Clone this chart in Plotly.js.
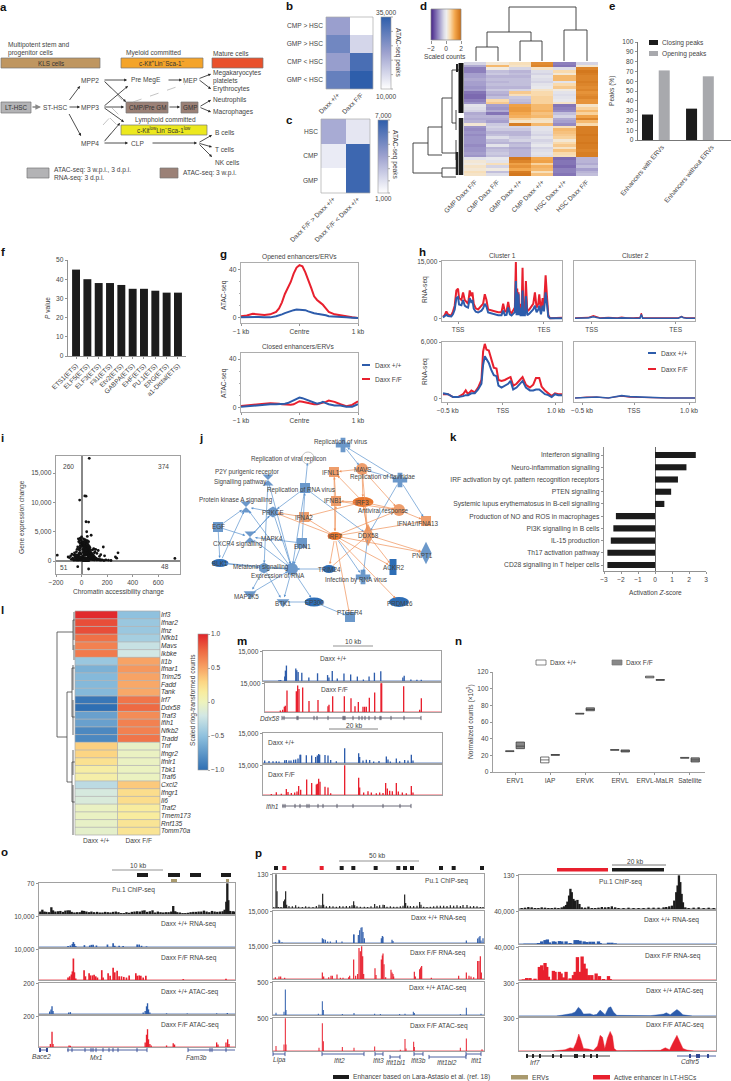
<!DOCTYPE html>
<html><head><meta charset="utf-8">
<script src="https://cdn.plot.ly/plotly-3.0.1.min.js"></script>
<style>html,body{margin:0;padding:0;background:#fff}</style></head><body><div id="c"></div>
<script>
// ---------- DATA ----------
const bRows=['CMP > HSC','GMP > HSC','CMP < HSC','GMP < HSC'];
const bCols=['Daxx +/+','Daxx F/F'];
const bZ=[[23000,10000],[27500,15500],[23250,32000],[28750,35000]];
const bKeyTicks=[10000,15000,20000,25000,30000,35000];
const cRows=['HSC','CMP','GMP'];
const cCols=['Daxx F/F > Daxx +/+','Daxx F/F < Daxx +/+'];
const cZ=[[3700,1800],[1650,6600],[1000,6600]];
const cKeyTicks=[1000,2000,3000,4000,5000,6000,7000];
const dCols=['GMP Daxx F/F','CMP Daxx F/F','GMP Daxx +/+','CMP Daxx +/+','HSC Daxx +/+','HSC Daxx F/F'];
const dZ=[
[-.4,.2,.4,1.5,-1.2,-.4],[-.8,.9,.3,1.6,-1.3,.2],[-1.2,.1,-.4,.3,-.3,1.6],[-1.2,-.6,-.7,-.3,.5,1.8],[-.9,-.5,-.6,-.4,.2,1.7],
[-.9,-.7,-.7,-.2,.9,1.6],[-.8,-.6,-.6,-.3,.9,1.6],[-.9,-.7,-.6,-.4,-.2,1.7],[-.9,-.6,-.6,-.2,.5,1.6],[-1,-.7,-.7,-.1,.7,1.5],
[-.9,-.5,-.4,.3,.1,1.6],[-1.3,-.7,.7,.5,-.2,1.4],[-1.4,-.8,.4,.5,-.3,1.5],[-1.4,-.6,-.5,.6,-.2,1.6],[-1.2,.5,-.6,.6,-.1,1.4],
[-1,.7,-.7,.6,.3,1.4],[-.2,-.9,1.2,.9,-1.3,.3],[-.3,-1,1.3,.9,-1.2,.6],[-.4,-.8,1.3,1,-1.1,.9],[-.8,-1.3,1.1,.8,-.6,.6],
[-.7,-.7,1,.9,-.4,1.2],[-.8,-.8,.6,.4,-.8,1.6],[-.7,-.9,.3,.3,-.9,.9],[.2,-.5,1.7,.9,-1.1,.5],[-1,-.4,-.4,-.2,.4,1.7],
[-1.1,-.5,-.5,-.2,.9,1.7],[-1,-.7,-.7,-.3,.8,1.7],[-1.1,-.6,-.7,-.4,.7,1.8],[-1,-.3,-.5,-.2,.6,1.7],[-1,-.6,-.4,-.4,.2,1.7],
[-1,-.7,-.7,-.3,.5,1.8],[-1.1,-.2,-.6,-.1,.7,1.7],[-1,-.7,-.8,-.4,.3,1.7],[-1,-.6,-.7,-.3,.8,1.6],[-.9,-.5,-.7,-.2,.5,1.7],
[-1,-.6,-.7,-.3,.4,1.7],[-.2,-.1,1.8,1.1,-1.4,-.7],[.2,-.2,1.6,1.2,-1.3,-.7],[.1,.4,1.2,.6,-1.3,-.8],[.3,-.4,1.4,1,-1.4,-.6],
[.2,.1,1.1,.9,-1.2,-.9],[.4,-.6,1.7,.4,-1.2,-.7],[.3,-.3,1.8,.8,-1.3,-.6]];
const dKey=[-2,-1.6,-1.2,-.8,-.4,0,.4,.8,1.2,1.6,2];
const eLabels=['Enhancers with ERVs','Enhancers without ERVs'];
const eClosing=[26,32], eOpening=[71,65];
const fNames=['ETS1(ETS)','ELF5(ETS)','ELF3(ETS)','Fli1(ETS)','Etv2(ETS)','GABPA(ETS)','EHF(ETS)','PU.1(ETS)','ERG(ETS)','a1-Distal(ETS)'];
const fVals=[45,40,38,38,37,35,35,34,33,33];
const gPos=[-1,-.9,-.8,-.7,-.6,-.5,-.4,-.35,-.3,-.25,-.2,-.15,-.1,-.05,0,.05,.1,.15,.2,.25,.3,.35,.4,.45,.5,.6,.7,.8,.9,1];
const gOpenF=[1.5,2,3.5,3,2.5,3,5,8,13,20,25,30,37,42,44,43,38,32,25,18,15,13,11,8,5,3,2,1,.5,0];
const gOpenW=[.5,.8,1,.8,.5,.5,1.5,2,3,4,5,5.5,6.5,7,7,7,6.5,5.5,4.5,4,3.5,3.2,3,2.2,1.5,1,.7,.5,.2,0];
const gCloseW=[1,1.5,2,2.5,3,3,3,3,3,3.5,4,5,6,7,8.5,8,7,6,5,4,3.5,4,5,4,3,2,2,1,1,3];
const gCloseF=[1.5,2,3,3.2,3.5,3.8,4,3.5,3,2.8,2.5,2.7,3,4,5.5,5,4.5,3.5,3,3,3,3.5,4,5,6,5,3,1.5,2.5,5.5];
const hX=[130,135,140,145,150,155,160,165,170,175,178,185,190,195,200,205,210,215,218,222,228,235,245,250,255,260,265,275,285,295,305,310,315,320,325,330,335,345,348,350,352,354,356,358,360,362,365,368,370,372,375,378,382,388,395,400,405,410,415,418,423,428,432,437,441,445,450,486];
const hC1F=[.6,1,2,1.2,1,1,2,3.5,7.5,8,5.5,5,7,5,4.5,4,7.5,6,7,4,2.8,2.5,3.5,4,6.5,5,2.5,2.2,2,1.8,1.8,4,2,2,4.5,2,1.5,3,15,3,8,3,7,2.5,4,2,2,13.5,4,3,2,10,2,2.5,3.5,4,7,3,4,6.5,2,5.5,3,11.5,6,1,.2,.3];
const hC1W=[.4,.7,1.1,.8,.7,.7,1.3,2.5,5.5,5.8,3.8,3.6,5,3.5,3.2,3,5.5,4.2,5,2.7,1.9,1.7,2.2,2.8,4,3.2,1.7,1.4,1.2,1,1,2.2,1,1.1,3,1.2,.9,1.8,10,1,7,1,6.5,1,3,1,1,7.5,1,1,1,6,1,1.4,2,2.5,3.5,1.8,2.5,3.5,1.2,3.5,2,7,4,.6,.2,.2];
const h2X=[525,565,580,600,625,640,652,665,680,700,720,724,728,750,775,790,795,800,804,815,835,845,850,860,885];
const hC2F=[.3,.4,.9,.3,.4,.3,.3,.5,.3,.3,.4,1.5,.3,.3,.3,.3,.4,.3,.3,.3,.3,.7,.4,.3,.3];
const hC2W=[.2,.3,.6,.2,.3,.2,.2,.3,.2,.2,.2,1.2,.2,.2,.2,.2,.3,.2,.2,.2,.2,.6,.3,.2,.2];
const hT1X=[130,145,160,175,190,198,205,215,225,235,245,250,255,260,267,275,282,290,296,305,315,325,332,340,350,360,368,378,390,400,408,418,425,435,445,455,465,475,486];
const hT1F=[.5,.5,.2,.2,.5,.9,.5,.9,.7,1.2,2,5,5.8,5.2,5.1,4,3.3,3.2,2,1.9,2,2.2,2.3,1.4,1.6,2,2.3,1.5,1.2,1.5,2.2,2.2,1.3,.9,.6,.3,.6,.5,.5];
const hT1W=[.6,.5,.2,.2,.3,.4,.4,.6,.6,1,1.6,3.6,4.5,4.2,3.8,3,2.5,2.4,1.4,1.2,1.4,1.6,1.9,1,1.2,1.6,1.9,1.2,.9,.9,1,1,.8,.5,.4,.2,.5,.4,.4];
const hT2X=[525,560,590,625,650,665,690,720,760,800,850,885];
const hT2F=[.1,.2,.2,.1,.25,.3,.2,.15,.15,.1,.1,.1];
const hT2W=[.1,.15,.2,.1,.3,.35,.25,.2,.15,.1,.1,.1];
const iX=[60,25,35,-15,35,55,40,75,0,-10,-25,-15,45,30,170,285,275,730,-190,-30,55,-105,-95,-85,-75,-70,-60,-55,-50,-45,-40,-35,-30,-25,-20,-15,-10,-5,0,5,-80,-65,-52,-42,-33,-28,-22,-16,-12,-7,-2,3,8,-60,-48,-38,-30,-24,-18,-12,-8,-3,2,-50,-36,-26,-18,-10,-4,-30,-20,-12,-5,-20,-14,-8,-22,-12,-6,
5,10,15,20,25,30,35,40,45,50,55,60,65,70,75,80,85,90,95,100,110,120,130,140,150,160,175,190,210,230,8,14,20,26,32,38,44,50,56,62,68,74,80,88,96,104,112,122,132,145,12,18,24,30,36,42,48,54,60,66,72,78,86,94,102,115,10,16,22,28,34,40,46,52,58,64,70,76,84,92,6,12,18,24,30,36,42,48,54,60,66,72,80,8,14,20,26,32,38,44,50,56,62,68,10,16,22,28,34,40,46,52,58,12,20,28,36,44,52,60,15,25,35,45,55,18,30,42,95,110,130,150,180,265,120,140,65,85,105,100];
const iY=[17500,11100,11050,10400,6700,6650,5000,4400,4100,3900,3800,3500,4200,3600,2400,1400,500,450,1000,-950,-1350,700,600,900,1200,500,1000,1400,700,1100,1600,2000,2400,900,1300,1800,2600,3000,3300,2800,300,300,250,300,350,400,300,350,500,300,400,300,500,150,200,150,200,150,200,250,200,150,200,600,700,500,600,700,600,1000,1100,1400,1200,2000,2200,2400,3300,3000,3600,
300,400,500,450,600,500,400,500,450,500,400,350,400,300,300,350,250,300,250,200,300,200,250,200,150,200,100,200,150,100,800,900,1100,1000,1200,1100,1000,900,800,900,700,800,600,500,600,500,400,300,300,250,1500,1400,1600,1500,1700,1400,1300,1200,1100,1000,1100,900,900,800,700,500,2000,1900,2100,1800,2000,1800,1700,1500,1400,1400,1300,1200,1100,1000,2600,2500,2400,2300,2500,2300,2100,1900,1800,1700,1600,1500,1300,3000,2900,2800,2700,2900,2600,2500,2400,2100,2000,1900,100,100,120,90,100,120,100,80,100,3300,3200,3500,3100,3000,2800,2500,3800,3600,3400,3500,3300,150,120,100,2100,2000,1800,1100,900,700,1300,800,2300,1900,1600,1400];
const kLabels=['Interferon signalling','Neuro-inflammation signalling','IRF activation by cyt. pattern recognition receptors','PTEN signalling','Systemic lupus erythematosus in B-cell signalling','Production of NO and ROS in macrophages','PI3K signalling in B cells','IL-15 production','Th17 activation pathway','CD28 signalling in T helper cells'];
const kVals=[2.4,1.85,1.35,.95,.55,-2.3,-2.45,-2.6,-2.8,-2.8];
const lGenes=['Irf3','Ifnar2','Ifnz','Nfkb1','Mavs','Ikbke','Il1b','Ifnar1','Trim25','Fadd','Tank','Irf7','Ddx58','Traf3','Ifih1','Nfkb2','Tradd','Tnf','Ifngr2','Ifnlr1','Tbk1','Traf6','Cxcl2','Ifngr1','Il6','Traf2','Tmem173','Rnf135','Tomm70a'];
const lWT=[.98,.85,.85,.72,.65,.68,-.45,-.6,-.55,-.55,-.55,-.95,-1,-.7,-.7,-.85,-.85,.32,.3,.22,.12,.1,-.3,-.17,-.15,-.03,-.03,-.05,-.07];
const lKO=[-.5,-.45,-.45,-.4,-.25,-.2,.5,.55,.5,.48,.48,.7,.75,.6,.65,.65,.7,-.05,-.03,-.03,-.02,-.02,.35,.25,.25,.15,.15,.2,.2];
const nCats=['ERV1','IAP','ERVK','ERVL','ERVL-MaLR','Satellite'];
const nWQ1=[24.5,11,69.5,26,113,16.5], nWMed=[25,14.5,70,26.5,114,17], nWQ3=[25.5,18,70.5,27,115,17.5];
const nFQ1=[28,20,73.5,24,110,12], nFMed=[31,20.5,75,25,110.5,14.5], nFQ3=[36,21,77,26.5,111,17];
// genome tracks: flat "position, height %" pairs
const m1=[178,3,183,3,195,15,197,35,200,52,228,42,231,36,235,30,246,28,267,12,293,26,323,20,327,12,337,34,352,8,372,25,392,22,412,15,430,5,447,15,463,28,482,33,548,12,552,18,572,5,590,4,603,4];
const m2=[180,5,187,8,192,18,195,22,200,75,228,72,232,92,236,80,247,85,266,38,293,42,323,20,326,25,337,55,372,55,392,48,404,20,414,35,428,18,433,18,438,18,447,50,463,68,482,100,484,100,550,90,598,8,603,48];
const m3=[135,8,148,7,160,6,170,6,178,5,195,9,200,10,208,8,214,8,222,11,228,12,235,15,241,28,243,28,260,26,276,25,288,20,293,25,297,30,300,28,316,27,325,25,333,10,350,6,375,50,417,33,420,20,430,8,440,11,450,10,462,5,478,7,500,22,505,12,512,5,530,15,540,6,555,10,565,8,575,28,580,8];
const m4=[155,3,170,9,185,4,200,20,205,10,215,7,225,8,232,12,237,30,243,18,261,52,276,40,290,35,293,38,297,55,301,45,316,28,325,25,333,6,375,100,417,58,420,25,432,8,445,13,455,8,470,6,480,8,490,7,498,40,503,22,510,14,518,13,530,40,536,12,548,8,560,6,575,30,580,8];
const o1=[122,8,128,14,134,8,140,7,148,6,155,22,160,12,167,8,175,9,182,10,190,7,197,11,204,12,210,12,216,7,224,5,232,6,240,6,247,11,253,10,260,8,268,6,275,8,283,6,292,7,300,5,308,5,316,7,324,6,332,5,340,7,348,8,356,6,364,3,372,3,380,6,388,4,396,7,404,8,412,9,420,8,428,11,434,12,442,7,450,9,458,12,466,5,474,8,482,6,490,5,498,6,506,6,514,8,520,26,526,9,532,6,540,5,548,3,556,3,564,4,572,6,580,7,588,7,596,8,604,8,612,11,620,8,628,6,636,10,644,8,652,7,660,8,668,9,674,14,679,40,682,100,685,45,690,10,698,9,703,8];
const o2=[205,3,212,5,218,10,221,16,224,10,228,3,254,6,270,5,275,7,280,7,290,5,323,8,340,12,345,4,358,4,370,3,412,8,418,8,425,4,440,2];
const o3=[205,8,210,12,215,18,218,28,221,70,224,25,228,5,253,32,257,12,268,22,272,15,278,15,283,17,288,12,293,8,306,32,310,8,325,22,331,14,340,40,345,25,352,30,358,12,365,12,372,10,380,8,388,15,408,22,412,14,418,15,423,14,430,8,438,14,550,3,678,4];
const o4=[150,8,154,15,157,25,160,10,207,5,212,6,430,5,436,10,440,25,443,35,446,15,450,5,500,2,562,2,650,2,682,3];
const o5=[152,10,157,50,160,10,208,5,212,4,436,15,440,40,443,58,446,25,450,10,454,5,500,5,520,12,524,8,650,15,654,8,678,15,683,25,687,10];
const p1=[100,2,107,100,110,50,114,3,122,3,130,20,133,25,136,50,139,10,146,6,156,5,166,8,175,4,186,3,196,5,206,4,218,3,228,6,236,10,242,8,247,42,250,10,258,5,268,6,278,5,288,4,298,6,308,5,318,6,328,6,335,8,340,20,343,8,350,5,360,4,372,4,382,3,392,5,403,12,410,6,418,8,428,10,432,9,440,4,450,5,460,4,470,4,480,5,488,7,493,40,496,15,502,7,510,6,520,6,530,7,538,18,542,10,550,4,560,3,570,4,580,5,590,7,600,7,610,7,620,6,630,8,640,7,650,8,660,6,668,9,680,9,690,5,700,6,710,5,720,3,728,3];
const p2=[105,2,116,10,118,8,125,2,246,15,250,12,255,10,262,5,270,5,288,9,305,5,340,27,341,27,354,25,358,40,362,48,365,50,368,35,372,15,423,15,426,22,428,20,455,10,458,6,678,8,712,14,716,18,719,22,722,8,728,15];
const p3=[105,5,116,8,121,8,133,4,246,20,250,8,265,5,272,10,276,10,290,14,300,4,308,4,325,5,328,10,340,60,346,10,352,15,356,95,360,85,364,100,367,70,370,15,404,33,407,12,423,60,426,72,428,78,431,45,436,5,452,28,455,20,458,15,460,8,522,22,525,8,538,30,541,35,544,40,573,4,655,10,678,20,686,10,692,8,700,5,712,55,716,55,720,70,723,20];
const p4=[107,7,131,10,135,78,137,15,234,4,246,42,249,15,306,3,341,6,403,4,420,3,478,3,494,4,519,10,522,6,660,3,678,22,722,4];
const p5=[107,15,131,20,135,100,137,20,236,10,246,85,249,30,306,12,341,10,403,14,480,4,494,37,497,8,520,28,522,12,660,10,678,38,725,5];
const q1=[95,3,105,4,115,6,125,5,135,3,145,3,155,5,165,4,175,3,185,3,195,4,205,3,215,5,222,8,228,12,232,22,237,40,241,60,245,50,250,30,255,25,262,27,268,15,275,5,285,4,295,7,305,3,315,3,325,4,335,6,345,5,355,6,365,8,375,5,385,3,400,3,415,4,430,3,445,3,460,3,475,4,490,4,505,4,520,5,528,6,537,8,545,10,552,25,558,50,562,70,566,100,570,80,574,45,578,20,585,5,595,3,610,4,625,5,640,3,655,4,670,3];
const q2=[105,1,115,1,125,1,135,1,145,3,155,8,165,12,172,14,178,5,190,8,195,7,208,9,215,8,228,8,240,3,255,12,262,12,270,10,282,8,290,6,300,7,310,7,325,8,330,3,355,4,365,4,375,2];
const q3=[100,2,110,6,120,6,135,4,148,40,155,45,161,30,165,52,170,40,175,10,190,28,195,25,208,25,213,20,220,8,228,25,240,5,250,15,255,25,262,70,268,25,276,72,282,50,288,35,296,15,305,15,318,20,328,12,340,3,355,12,360,3];
const q4=[200,0,225,3,235,6,245,8,255,12,265,27,272,20,280,6,290,7,300,7,310,3,320,5,330,18,338,10,345,4,355,25,362,28,370,12,380,2,480,1,520,6,528,10,540,4,550,12,560,20,568,14,578,4,590,2,605,0];
const q5=[190,0,225,4,240,10,250,8,258,25,266,52,272,35,280,8,295,6,310,2,322,15,330,48,337,42,344,8,352,40,360,60,367,45,372,8,380,1,510,2,525,10,538,4,548,25,560,48,568,30,578,8,590,3,610,0];
// network nodes: x, y, symbol, colour key
const netNodes={virus:[343,445,'cross','b'],viral:[308,458,'circle','w'],mavs:[362,469,'circle','o'],ifnl1:[334,472,'square','o'],flavi:[400,480,'cross','b'],p2y:[268,480,'hourglass','b'],rna:[305,488,'square','b'],ifnb1:[336,501,'square','o'],pka:[246,507,'hourglass','b'],prkce:[273,512,'hexagon','b'],ifna2:[304,517,'square','o'],anti:[399,510,'circle','o'],ifna1:[426,521,'square','o'],ddx58:[368,535,'diamond-tall','o'],mapk4:[250,537,'hourglass','b'],edn1:[302,543,'square','b'],egf:[218,527,'square','b'],pnpt1:[426,553,'diamond-tall','b'],mel:[264,568,'hexagon','b'],expr:[292,569,'circle','b'],inf:[363,577,'cross','b'],map2k5:[250,594,'triangle-down','b'],btk:[283,602,'triangle-down','b'],ptger4:[350,617,'square','b']};
const netEllipses={irf3:[363,502,21,10,'o'],irf7:[335,536,15,8,'o'],blk1:[220,563,17,8,'b'],trim24:[329,569,13,8,'b'],ep300:[314,602,19,9,'b'],prdm16:[399,602,20,10,'b'],ackr2:[393,567,7,16,'br']};
const netLabels=[['Replication of virus',340,442],['Replication of viral replicon',289,459],['MAVS',362,469],['IFNL1',331,472],['Replication of flaviridae',383,477],['P2Y purigenic receptor',247,472],['Signalling pathway',240,482],['Replication of RNA virus',301,490],['IFNB1',333,500],['IRF3',362,502],['Protein kinase A signalling',236,500],['PRKCE',273,512],['IFNA2',304,517],['Antiviral response',383,511],['IFNA1/IFNA13',417,523],['IRF7',335,536],['DDX58',368,535],['MAPK4',272,538],['EDN1',302,546],['EGF',218,526],['CXCR4 signalling',238,544],['PNPT1',422,555],['BLK1',220,563],['Melatonin signalling',261,567],['Expression of RNA',278,576],['TRIM24',329,569],['ACKR2',393,567],['Infection by RNA virus',356,580],['MAP2K5',246,596],['BTK1',283,603],['EP300',314,602],['PTGER4',350,612],['PRDM16',400,603]];
const netBlue=[['virus','mavs'],['mavs','flavi'],['rna','viral'],['rna','expr'],['rna','ddx58'],['flavi','virus'],['flavi','ddx58'],['flavi','ifna1'],['edn1','expr'],['edn1','rna'],['prkce','pka'],['prkce','expr'],['prkce','mapk4'],['egf','pka'],['egf','mapk4'],['egf','blk1'],['blk1','pka'],['blk1','mel'],['blk1','expr'],['mapk4','prkce'],['p2y','mel'],['p2y','expr'],['rna','prkce'],['mel','expr'],['expr','ep300'],['expr','btk'],['map2k5','expr'],['btk','ep300'],['trim24','expr'],['irf7','inf'],['ddx58','inf'],['ep300','ptger4'],['mel','map2k5'],['expr','pka'],['mapk4','expr'],['edn1','mapk4'],['mel','btk']];
const netOrange=[['irf7','ifnb1'],['ifnb1','ifnl1'],['ifnl1','irf7'],['irf3','ifnb1'],['irf3','ifnl1'],['irf3','ifna2'],['mavs','irf3'],['mavs','ifnl1'],['ddx58','irf3'],['irf3','ddx58'],['ifnb1','anti'],['irf3','anti'],['anti','ifna1'],['mavs','anti'],['irf7','anti'],['irf7','ifna1'],['irf7','ifna2'],['irf7','pnpt1'],['ddx58','pnpt1'],['irf7','ackr2'],['irf7','trim24'],['irf7','prdm16'],['irf7','ptger4'],['irf7','prkce'],['ifna2','prkce'],['trim24','ddx58'],['ddx58','ackr2'],['mavs','ddx58']];
// panel a flow arrows: x0,y0,x1,y1
const aArrows=[[68,107,80,107],[68,102,80,86],[68,112,81,136],[103,80,127,80],[103,80,126,102],[103,107,124,107],[103,107,128,86],[103,107,124,122],[103,143,128,143],[103,143,120,123],[167,80,182,80],[198,79,211,74],[198,79,211,89],[168,107,180,107],[199,107,211,100],[199,107,211,112],[151,143,197,143],[198,143,212,135],[198,143,212,147],[198,143,212,157]];
const aDashed=[[133,102,185,84],[105,82,122,100],[112,108,122,118],[103,125,114,113],[110,118,122,130],[105,140,112,132]];
const aLabels=[['Multipotent stem and',7,45],['progenitor cells',7,53],['Myeloid committed',125,53],['Mature cells',212,53],['Megakaryocytes',212,73],['platelets',212,81],['Erythrocytes',212,89],['Neutrophils',212,100],['Macrophages',212,112],['Lymphoid committed',134,120],['B cells',214,132],['T cells',214,149],['NK cells',214,162],['ATAC-seq: 3 w.p.i., 3 d.p.i.',53,170],['RNA-seq: 3 d.p.i.',53,178],['ATAC-seq: 3 w.p.i.',182,173],['ST-HSC',42,107],['MPP2',80,80],['MPP3',80,107],['MPP4',80,143],['Pre MegE',130,80],['MEP',182,80],['CLP',130,143]];
const aBoxes=[[1,58,100,68,'#bf9660','KLS cells'],[121,58,203,68,'#f4a42a','c-Kit<sup>+</sup>Lin<sup>−</sup>Sca-1<sup>−</sup>'],[212,58,263,68,'#e9512c',''],[121,125,207,135,'#ece81e','c-Kit<sup>low</sup>Lin<sup>−</sup>Sca-1<sup>low</sup>'],[1,102,31,113,'#b3b3b5','LT-HSC'],[126,102,168,113,'#9b8177','CMP/Pre GM'],[181,102,198,113,'#9b8177','GMP'],[27,168,49,178,'#b3b3b5',''],[160,168,178,178,'#9b8177','']];
const dTop=[[476,61,476,47],[476,47,498,47],[498,47,498,61],[520,61,520,41],[520,41,542,41],[542,41,542,61],[564,61,564,30],[564,30,587,30],[587,30,587,61],[487,47,487,32],[487,32,531,32],[531,32,531,41],[509,32,509,7],[509,7,576,7],[576,7,576,30]];
const dLeft=[[413,143,413,173],[413,143,428,143],[413,173,442,173],[428,127,428,155],[428,127,442,127],[428,155,442,155],[442,98,442,153],[442,98,452,98],[442,153,456,153],[452,70,452,123],[452,70,460,70],[452,123,456,123],[442,168,442,177],[442,168,456,168],[442,177,456,177],[456,110,456,130],[456,140,456,160]];
const lDen=[[57,632,57,737],[57,632,73,632],[57,737,67,737],[73,620,73,650],[73,620,75,620],[67,692,67,782],[67,692,72,692],[67,782,72,782],[72,668,72,717],[72,762,72,802],[72,668,75,668],[72,717,75,717],[72,762,75,762],[72,802,75,802],[74,612,74,640],[74,645,74,660],[73,665,73,690],[73,700,73,735],[73,750,73,775],[73,785,73,835]];
// ---------- BUILD ----------
const W=731,H=1081,FONT='"Liberation Sans",Arial,sans-serif',TXT='#444',BLUE='#2d5cab',RED='#e8202e',BLK='#1c1c1c',FS=6.6;
const traces=[],ann=[],shp=[];
const layout={width:W,height:H,margin:{l:0,r:0,t:0,b:0,autoexpand:false},showlegend:false,paper_bgcolor:'#fff',plot_bgcolor:'rgba(0,0,0,0)',barmode:'overlay',boxmode:'group',boxgap:.4,boxgroupgap:.2,font:{family:FONT,size:FS,color:TXT},hovermode:false};
let axN=0;
const base={showgrid:false,zeroline:false,showline:false,fixedrange:true,ticks:'',ticklen:2.5,tickwidth:.7,tickcolor:'#666',linecolor:'#888',linewidth:.8,tickfont:{size:FS,color:TXT,family:FONT},automargin:false};
function ax(px0,px1,py0,py1,xo,yo){axN++;const s=axN===1?'':axN;
 layout['xaxis'+s]=Object.assign({},base,{domain:[px0/W,px1/W],anchor:'y'+s},xo);
 layout['yaxis'+s]=Object.assign({},base,{domain:[1-py1/H,1-py0/H],anchor:'x'+s},yo);
 return {xaxis:'x'+s,yaxis:'y'+s};}
const OV={xaxis:'x99',yaxis:'y99'};
layout.xaxis99=Object.assign({},base,{domain:[0,1],range:[0,W],visible:false,anchor:'y99'});
layout.yaxis99=Object.assign({},base,{domain:[0,1],range:[H,0],visible:false,anchor:'x99'});
function T(t,x,y,o){ann.push(Object.assign({text:t,x,y,xref:'x99',yref:'y99',showarrow:false,xanchor:'center',yanchor:'middle',borderpad:0,font:{size:FS,color:TXT,family:FONT}},o||{}));}
function L(t,x,y,o){T(t,x,y,Object.assign({xanchor:'left'},o||{}));}
function V(t,x,y,a,o){T(t,x,y,Object.assign({textangle:a||-90},o||{}));}
function rect(x0,y0,x1,y1,fill,line,o){shp.push(Object.assign({type:'rect',xref:'x99',yref:'y99',x0,y0,x1,y1,fillcolor:fill,line:{color:line||fill,width:line?.7:0},layer:'above'},o||{}));}
function seg(x0,y0,x1,y1,c,w,d){shp.push({type:'line',xref:'x99',yref:'y99',x0,y0,x1,y1,line:{color:c,width:w||.7,dash:d||'solid'},layer:'above'});}
function arrow(x0,y0,x1,y1,c,w,s,st){ann.push({text:' ',x:x1,y:y1,ax:x0,ay:y0,xref:'x99',yref:'y99',axref:'x99',ayref:'y99',showarrow:true,arrowhead:2,arrowsize:.7,arrowwidth:w||.7,arrowcolor:c,standoff:s||0,startstandoff:st||0,font:{size:1}});}
[['a',3,7],['b',289,6],['c',289,120],['d',423,6],['e',612,6],['f',3,252],['g',223,254],['h',422,252],['i',2,438],['j',201,438],['k',453,437],['l',2,610],['m',242,641],['n',458,641],['o',4,852],['p',258,853]].forEach(p=>T('<b>'+p[0]+'</b>',p[1],p[2],{font:{size:11.5,color:'#111',family:FONT}}));

// ---- panel a ----
aBoxes.forEach(b=>{rect(b[0],b[1],b[2],b[3],b[4],'#777');if(b[5])T(b[5],(b[0]+b[2])/2,(b[1]+b[3])/2,{font:{size:6.3,color:'#333',family:FONT}});});
aArrows.forEach(a=>arrow(a[0],a[1],a[2],a[3],'#222',.8));
arrow(31,107,41,107,'#888',1.6);
aDashed.forEach(a=>seg(a[0],a[1],a[2],a[3],'#aaa',.7,'dash'));
aLabels.forEach(a=>L(a[0],a[1],a[2]));

// ---- heatmaps b,c ----
const blues=[[0,'#ffffff'],[.5,'#9ea2cf'],[1,'#2e5eab']];
function cb(px,py,len,thk,tv,tt){const o={thicknessmode:'pixels',thickness:thk,lenmode:'pixels',len,x:px/W,xanchor:'left',y:1-py/H,yanchor:'top',xpad:0,ypad:0,outlinewidth:.6,outlinecolor:'#999',tickvals:tv,ticks:tv.length?'outside':'',ticklen:2,tickwidth:.6,tickcolor:'#777',tickfont:{size:FS,color:TXT,family:FONT}};if(tt)o.ticktext=tt;else o.showticklabels=false;return o;}
let a=ax(326,373,17,89,{type:'category',tickangle:-45,range:[-.5,1.5]},{type:'category',range:[3.5,-.5],ticklabelstandoff:2});
traces.push({type:'heatmap',x:bCols,y:bRows,z:bZ,zmin:10000,zmax:35000,colorscale:blues,...a,colorbar:cb(381,17,72,10,[])});
bKeyTicks.forEach(v=>{const y=17+(35000-v)/25000*72;seg(391,y,393,y,'#777',.6);});
T('35,000',386,12);T('10,000',386,96);V('ATAC-seq peaks',398,53,90);
rect(326,17,373,89,'rgba(0,0,0,0)','#aaa');
a=ax(321,370,119,193,{type:'category',tickangle:-45,range:[-.5,1.5]},{type:'category',range:[2.5,-.5],ticklabelstandoff:2});
traces.push({type:'heatmap',x:cCols,y:cRows,z:cZ,zmin:1000,zmax:7000,colorscale:blues,...a,colorbar:cb(378,120,73,10,[])});
cKeyTicks.forEach(v=>{const y=120+(7000-v)/6000*73;seg(388,y,390,y,'#777',.6);});
T('7,000',383,115);T('1,000',383,198);V('ATAC-seq peaks',395,155,90);
rect(321,119,370,193,'rgba(0,0,0,0)','#aaa');

// ---- d ----
const pu=[[0,'#4b2a8c'],[.25,'#9d95c8'],[.42,'#dcdce8'],[.5,'#eeeeee'],[.62,'#f9dcb0'],[.78,'#f3a64c'],[1,'#c96a10']];
a=ax(464,598,62,176,{type:'category',tickangle:-45,range:[-.5,5.5]},{range:[dZ.length-.5,-.5],showticklabels:false});
traces.push({type:'heatmap',x:dCols,z:dZ,zmin:-2,zmax:2,colorscale:pu,showscale:false,...a});
a=ax(431,461,9,40,{range:[-2,2],tickvals:[-2,0,2],ticktext:['−2','0','2'],ticks:'outside'},{visible:false,range:[-.5,.5]});
traces.push({type:'heatmap',x:dKey,y:[0],z:[dKey],zmin:-2,zmax:2,colorscale:pu,showscale:false,zsmooth:'best',...a});
rect(431,9,461,40,'rgba(0,0,0,0)','#888');
T('Scaled counts',445,56);
function lines(list,c,w){const x=[],y=[];list.forEach(s=>{x.push(s[0],s[2],null);y.push(s[1],s[3],null);});traces.push({type:'scatter',mode:'lines',x,y,line:{color:c,width:w},...OV,cliponaxis:false});}
lines(dTop,'#333',.9);lines(dLeft,'#333',.9);
seg(461,63,461,113,'#111',5);seg(461,118,461,175,'#222',4.5);seg(457,64,457,72,'#222',2);seg(457,152,457,175,'#222',2.5);

// ---- e ----
a=ax(638,731,42,140,{range:[-.41,1.7],tickvals:[.13,1.26],ticktext:eLabels,tickangle:-50,showline:true,linecolor:'#555'},{range:[0,100],dtick:10,ticks:'outside',showline:true,linecolor:'#555'});
traces.push({type:'bar',x:[0,1],y:eClosing,width:.25,offset:-.32,marker:{color:BLK},...a});
traces.push({type:'bar',x:[0,1],y:eOpening,width:.25,offset:.06,marker:{color:'#a8a9ad'},...a});
V('Peaks (%)',612,91);
rect(649,40,658,45,BLK);rect(649,51,658,56,'#a8a9ad');L('Closing peaks',661,43);L('Opening peaks',661,53.5);

// ---- f ----
a=ax(68,186,260,356,{type:'category',range:[-.71,9.71],tickangle:-45,showline:true,linecolor:'#777',ticks:'outside'},{range:[0,50],dtick:10,ticks:'outside',showline:true,linecolor:'#777'});
traces.push({type:'bar',x:fNames,y:fVals,width:.7,marker:{color:BLK},...a});
V('<i>P</i> value',47,308);

// ---- g ----
function curve(a,x,y,c,w){traces.push({type:'scatter',mode:'lines',x,y,line:{color:c,width:w||2,shape:'linear'},...a});}
const gx={range:[-1,1],tickvals:[-1,0,1],ticktext:['−1 kb','Centre','1 kb'],ticks:'outside',showline:true,mirror:true,linecolor:'#999'};
const gm={minor:{tickvals:[10,20,30],ticks:'outside',ticklen:1.5,tickwidth:.6,tickcolor:'#777'}};
a=ax(241,358,263,323,gx,{range:[-4.2,45.8],tickvals:[0,40],...gm,ticks:'outside',showline:true,mirror:true,linecolor:'#999'});
curve(a,gPos,gOpenF,RED);curve(a,gPos,gOpenW,BLUE);
a=ax(241,358,353,412,gx,{range:[-3.3,44.9],tickvals:[0,40],...gm,ticks:'outside',showline:true,mirror:true,linecolor:'#999'});
curve(a,gPos,gCloseF,RED);curve(a,gPos,gCloseW,BLUE);
T('Opened enhancers/ERVs',299,257);T('Closed enhancers/ERVs',298,346);
V('ATAC-seq',224,295);V('ATAC-seq',224,383);
function miniLeg(x,y,c,t){seg(x,y,x+8,y,c,2);L(t,x+12,y);}
miniLeg(362,365,BLUE,'Daxx +/+');miniLeg(362,379,RED,'Daxx F/F');

// ---- h ----
const hbox={showline:true,mirror:true,linecolor:'#999'};
a=ax(442,562,261,321,{...hbox,range:[127,486],tickvals:[175,432],ticktext:['TSS','TES'],ticks:'outside'},{...hbox,range:[-.53,15.26],tickvals:[0,15],ticktext:['0','15,000'],ticks:'outside'});
curve(a,hX,hC1F,RED,2);curve(a,hX,hC1W,BLUE,2);
a=ax(574,695,261,321,{...hbox,range:[522,885],tickvals:[575,827],ticktext:['TSS','TES'],ticks:'outside'},{...hbox,range:[-.53,15.26],showticklabels:false});
curve(a,h2X,hC2F,RED,1.2);curve(a,h2X,hC2W,BLUE,1.6);
a=ax(442,562,342,402,{...hbox,range:[127,486],tickvals:[144,309,468],ticktext:['−0.5 kb','TSS','1.0 kb'],ticks:'outside'},{...hbox,range:[-.32,6],tickvals:[0,6],ticktext:['0','6,000'],ticks:'outside'});
curve(a,hT1X,hT1F,RED,2);curve(a,hT1X,hT1W,BLUE,2);
a=ax(574,695,342,402,{...hbox,range:[522,885],tickvals:[546,702,867],ticktext:['−0.5 kb','TSS','1.0 kb'],ticks:'outside'},{...hbox,range:[-.32,6],showticklabels:false});
curve(a,hT2X,hT2F,RED,1.2);curve(a,hT2X,hT2W,BLUE,1.6);
T('Cluster 1',502,255);T('Cluster 2',635,255);V('RNA-seq',425,290);V('RNA-seq',425,372);
miniLeg(648,353,BLUE,'Daxx +/+');miniLeg(648,369,RED,'Daxx F/F');

// ---- i ----
a=ax(56,180,456,574,{range:[-200,770],tickvals:[-200,0,200,400,600],ticktext:['−200','0','200','400','600'],ticks:'outside',showline:true,mirror:true,linecolor:'#888',zeroline:true,zerolinecolor:'#888',zerolinewidth:2},{range:[-2200,17900],tickvals:[0,5000,10000,15000],ticktext:['0','5,000','10,000','15,000'],ticks:'outside',showline:true,mirror:true,linecolor:'#888',zeroline:true,zerolinecolor:'#888',zerolinewidth:2});
traces.push({type:'scatter',mode:'markers',x:iX,y:iY,marker:{color:'#111',size:2.8},...a});
T('260',68,466);T('374',163,466);T('51',64,567);T('48',165,566);
V('Gene expression change',22,517);T('Chromatin accessibility change',118,592);

// ---- j ----
const nc={b:'#2d6db5',o:'#e8752d',w:'#ffffff'};
const netPt=k=>netNodes[k]||netEllipses[k];
netBlue.forEach(e=>{const s=netPt(e[0]),t=netPt(e[1]);arrow(s[0],s[1],t[0],t[1],'#5b93cf',.7,5,3);});
netOrange.forEach(e=>{const s=netPt(e[0]),t=netPt(e[1]);arrow(s[0],s[1],t[0],t[1],'#ef9058',.7,5,3);});
Object.keys(netEllipses).forEach(k=>{const e=netEllipses[k],rectNode=e[4]==='br';shp.push({type:rectNode?'rect':'circle',xref:'x99',yref:'y99',x0:e[0]-e[2]/2,x1:e[0]+e[2]/2,y0:e[1]-e[3]/2,y1:e[1]+e[3]/2,fillcolor:nc[e[4][0]],line:{width:0},layer:'above'});});
const nk=Object.keys(netNodes);
traces.push({type:'scatter',mode:'markers',x:nk.map(k=>netNodes[k][0]),y:nk.map(k=>netNodes[k][1]),marker:{symbol:nk.map(k=>netNodes[k][2]),color:nk.map(k=>nc[netNodes[k][3]]),size:nk.map(k=>netNodes[k][2]==='cross'?12:netNodes[k][2]==='diamond-tall'?16:netNodes[k][2]==='circle'?12:netNodes[k][2]==='square'?10:11),line:{color:nk.map(k=>netNodes[k][3]==='w'?'#888':'rgba(0,0,0,0)'),width:.7}},...OV});
netLabels.forEach(n=>T(n[0],n[1],n[2],{font:{size:6.3,color:'#444',family:FONT}}));

// ---- k ----
a=ax(604,706,447,571,{range:[-3,3],tickvals:[-3,-2,-1,0,1,2,3],ticktext:['−3','−2','−1','0','1','2','3'],ticks:'outside',showline:true,linecolor:'#777',zeroline:true,zerolinecolor:'#444',zerolinewidth:.8},{type:'category',range:[9.49,-.66],ticks:'outside',showline:true,linecolor:'#777',tickfont:{size:6.7,color:TXT,family:FONT}});
traces.push({type:'bar',orientation:'h',y:kLabels,x:kVals,width:.5,marker:{color:BLK},...a});
T('Activation <i>Z</i>-score',655,592);

// ---- l ----
const rdy=[[0,'#2f6fb3'],[.25,'#8fc1de'],[.4,'#d2e7e4'],[.5,'#eef3bc'],[.575,'#f8ec9e'],[.65,'#fcd583'],[.75,'#f7a365'],[.875,'#ee6a43'],[1,'#e0242a']];
a=ax(75,160,611,835,{type:'category',range:[-.5,1.5],ticklabelstandoff:0},{type:'category',side:'right',range:[lGenes.length-.5,-.5],tickvals:lGenes,ticktext:lGenes.map(g=>'<i>'+g+'</i>'),tickfont:{size:FS,color:'#333',family:FONT}});
traces.push({type:'heatmap',x:['Daxx +/+','Daxx F/F'],y:lGenes,z:lGenes.map((g,i)=>[lWT[i],lKO[i]]),zmin:-1,zmax:1,colorscale:rdy,...a,colorbar:cb(198,634,136,10,[-1,-.5,0,.5,1],['−1.0','−0.5','0','0.5','1.0'])});
const lAx=a;
lGenes.forEach((g,i)=>{if(i)shp.push({type:'line',xref:lAx.xaxis+' domain',yref:lAx.yaxis,x0:0,x1:1,y0:i-.5,y1:i-.5,line:{color:'#b5b5b5',width:.8},layer:'above'});});
rect(75,611,160,835,'rgba(0,0,0,0)','#aaa');seg(117.5,611,117.5,835,'#b5b5b5',.8);
V('Scaled rlog-transformed counts',193,700);
lines(lDen,'#444',.8);

// ---- tracks ----
function unpack(p){const x=[],y=[];for(let i=0;i<p.length;i+=2){x.push(p[i]);y.push(p[i+1]);}return {x,y};}
function track(rng,px0,px1,py0,py1,data,col,bw,lab,fill,frame){
 const o={range:[0,101]};if(lab){Object.assign(o,{tickvals:[100],ticktext:[lab],ticks:'outside'});}else o.showticklabels=false;
 const fr={showline:true,mirror:true,linecolor:frame||'#8a8a8a'};
 const t=ax(px0,px1,py0,py1,{range:rng,showticklabels:false,...fr},{...o,...fr});
 const d=unpack(data);
 if(fill)traces.push({type:'scatter',mode:'lines',x:d.x,y:d.y,fill:'tozeroy',fillcolor:col,line:{color:col,width:.4},...t});
 else traces.push({type:'bar',x:d.x,y:d.y,width:bw,marker:{color:col,line:{width:0}},...t});
 traces.push({type:'scatter',mode:'lines',x:rng,y:[.8,.8],line:{color:col,width:.7},opacity:.7,...t});
 return t;}
// m
track([130,662],263,441,651,681,m1,BLUE,4,'15,000');
track([134,662],265,441,683,712,m2,RED,4,'15,000');
track([130,667],263,442,733,763,m3,BLUE,4,'15,000');
track([130,667],263,442,765,795,m4,RED,4,'15,000');
T('Daxx +/+',333,658.5);T('Daxx F/F',334,689);L('Daxx +/+',267,742);L('Daxx F/F',267,774);
seg(333,646,373,646,'#666',.7);T('10 kb',353,641);seg(329,729,378,729,'#666',.8);T('20 kb',354,725);
function gene(x0,x1,y,ex,c,thick){seg(x0,y,x1,y,c,.8);traces.push({type:'scatter',mode:'markers',x:ex,y:ex.map(()=>y),marker:{symbol:'line-ns',size:3,line:{color:c,width:thick?1.8:.8}},...OV});}
gene(282,421,718,[282,284,297,298,314,317,328,343,353,359,345,344,369,375,362,365,380,381,391,404,421],'#445');
T('<i>Ddx58</i>',269,718.5);
gene(282,411,806,[283,285,295,300,307,309,318,323,337,353,383,400,411],'#445');
T('<i>Ifih1</i>',272,806.5);
// n
a=ax(493,705,672,772,{type:'category',range:[-.63,5.43],ticks:'outside',showline:true,linecolor:'#888'},{range:[0,120],dtick:20,ticks:'outside',showline:true,linecolor:'#888'});
traces.push({type:'box',x:nCats,q1:nWQ1,median:nWMed,q3:nWQ3,lowerfence:nWQ1,upperfence:nWQ3,offsetgroup:'w',whiskerwidth:0,boxpoints:false,fillcolor:'#ffffff',line:{color:'#333',width:.7},...a});
traces.push({type:'box',x:nCats,q1:nFQ1,median:nFMed,q3:nFQ3,lowerfence:nFQ1,upperfence:nFQ3,offsetgroup:'f',whiskerwidth:0,boxpoints:false,fillcolor:'#888888',line:{color:'#333',width:.7},...a});
rect(536,660,546,665,'#fff','#555');L('Daxx +/+',549,662.5);rect(612,660,622,665,'#888','#777');L('Daxx F/F',625,662.5);
V('Normalized counts (×10<sup>3</sup>)',470,722);
// o
const oR=[118,705];
track(oR,39,235,883,914,o1,BLK,7,'70');
track(oR,39,235,916,947,o2,BLUE,5,'10,000');
track(oR,39,235,949,980,o3,RED,5,'10,000');
track(oR,39,235,983,1014,o4,BLUE,4,'200');
track(oR,39,235,1016,1047,o5,RED,4,'200');
T('Pu.1 ChIP-seq',133,890);L('Daxx +/+ RNA-seq',160,924);L('Daxx F/F RNA-seq',160,958);L('Daxx +/+ ATAC-seq',160,992);L('Daxx F/F ATAC-seq',160,1024.5);
seg(112,870,163,870,'#666',.7);T('10 kb',138,865);
[[137,148],[168,180],[190,201],[221,231]].forEach(b=>rect(b[0],873,b[1],877,BLK));
[[171,177],[226,229]].forEach(b=>rect(b[0],879,b[1],882,'#a99a6e'));
gene(40,47,1050,[40,47],'#223a8c',true);gene(67,147,1050,[68,72,85,91,93,96,103,109,113,118,137,147],'#223a8c');gene(188,235,1050,[188,210,212,226],'#223a8c');
T('<i>Bace2</i>',41,1056);T('<i>Mx1</i>',96,1057);T('<i>Fam3b</i>',196,1057);
// p
const pR=[98,731];
track(pR,273,484,874,908,p1,BLK,3.5,'130');
track(pR,273,484,911,943,p2,BLUE,3.5,'15,000');
track(pR,273,484,946,979,p3,RED,3.5,'15,000');
track(pR,273,484,982,1015,p4,BLUE,3,'500');
track(pR,273,484,1018,1051,p5,RED,3,'500');
T('Pu.1 ChIP-seq',446,881);L('Daxx +/+ RNA-seq',410,918);T('Daxx F/F RNA-seq',438,953);T('Daxx +/+ ATAC-seq',438,988);T('Daxx F/F ATAC-seq',439,1026);
seg(339,861,419,861,'#666',.7);T('50 kb',377,855);
[108,305,340,407,475,495,516,603,641,726].forEach(z=>rect(240+(z-6)/3,866,240+(z+6)/3,870,BLK));
[133,245].forEach(z=>rect(240+(z-6)/3,866,240+(z+6)/3,870,RED));
[[273,285,1054],[322,364,1054],[375,383,1054],[390,400,1057],[414,423,1054],[429,466,1057],[466,481,1054]].forEach(g=>gene(g[0],g[1],g[2],[g[0],g[1]],'#223a8c'));
[['Lipa',279,1060],['Ifit2',339,1060],['Ifit3',378,1060],['Ifit1bl1',396,1062],['Ifit3b',418,1060],['Ifit1bl2',447,1062],['Ifit1',476,1060]].forEach(g=>T('<i>'+g[0]+'</i>',g[1],g[2]));
// third group
const qR=[87,677];
track(qR,519,716,875,909,q1,BLK,7,'130');
track(qR,519,716,911,944,q2,BLUE,10,'40,000');
track(qR,519,716,947,980,q3,RED,10,'40,000');
track(qR,519,716,983,1016,q4,BLUE,0,'300',true);
track(qR,519,716,1018,1051,q5,RED,0,'300',true);
T('Pu.1 ChIP-seq',620,882);L('Daxx +/+ RNA-seq',643,919.5);L('Daxx F/F RNA-seq',644,956);L('Daxx +/+ ATAC-seq',645,991);L('Daxx F/F ATAC-seq',645,1024.5);
seg(612,865,666,865,'#666',.9);T('20 kb',635,861);
rect(557,868,608,871.5,RED);rect(612,868,664,871.5,BLK);
gene(526,610,1056,[527,533,540,553,561,575,577,584,591,597],'#111',true);gene(677,716,1056,[690,697,699,708],'#223a8c',true);
T('<i>Irf7</i>',535,1062);T('<i>Cdhr5</i>',690,1061);
// bottom legend
rect(333,1075,349,1079,BLK);L('Enhancer based on Lara-Astasio et al. (ref. 18)',352,1077);
rect(511,1075,528,1079.5,'#a99a6e');L('ERVs',531,1077);rect(593,1075,610,1079.5,RED);L('Active enhancer in LT-HSCs',613,1077);

layout.annotations=ann;layout.shapes=shp;
Plotly.newPlot('c',traces,layout,{staticPlot:true,displayModeBar:false});
</script></body></html>
